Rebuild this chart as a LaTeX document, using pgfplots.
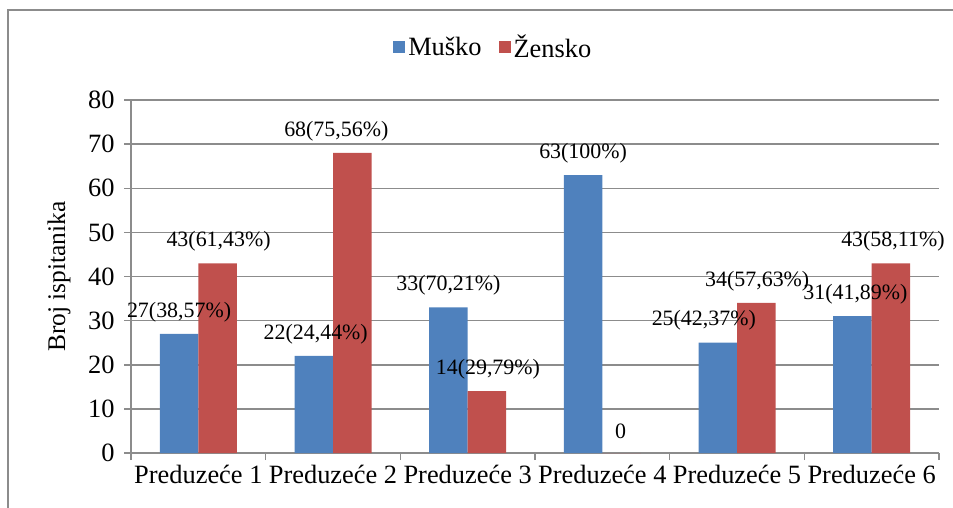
\documentclass[border=0pt]{standalone}
\usepackage{fontspec}
\setmainfont{Liberation Serif}
\usepackage{pgfplots}
\usepackage{pgfplotstable}
\pgfplotsset{compat=1.18}
\definecolor{mblue}{HTML}{4F81BD}
\definecolor{fred}{HTML}{C0504D}
\definecolor{gridgray}{HTML}{8C8C8C}

\pgfplotstableread{
x y label dx
0 27 27(38,57\%) 0
1 22 22(24,44\%) 2
2 33 33(70,21\%) 0
3 63 63(100\%) 0
4 25 25(42,37\%) -14
5 31 31(41,89\%) 3
}\muski
\pgfplotstableread{
x y label dx
0 43 43(61,43\%) 1
1 68 68(75,56\%) -16
2 14 14(29,79\%) 1
3 0 0 -1
4 34 34(57,63\%) 1
5 43 43(58,11\%) 2
}\zenski

\begin{document}
\begin{tikzpicture}
\useasboundingbox (0,0) rectangle (953bp,-508bp);
\draw[gridgray, line width=1.5bp] (8bp,-520bp) -- (8bp,-10bp) -- (970bp,-10bp);
\begin{axis}[
  at={(131bp,-453bp)}, anchor=south west,
  scale only axis, width=808bp, height=353bp,
  ybar=0pt, bar width=38.5bp,
  xmin=-0.5, xmax=5.5, ymin=0, ymax=80,
  ytick={0,10,...,80},
  xtick={0,...,5},
  xticklabels={Preduzeće 1,Preduzeće 2,Preduzeće 3,Preduzeće 4,Preduzeće 5,Preduzeće 6},
  minor xtick={-0.5,0.5,...,5.5},
  major x tick style={draw=none},
  minor tick length=7bp, major tick length=7bp,
  tick align=outside,
  axis x line*=bottom, axis y line*=left,
  axis line style={gridgray, line width=1.5bp},
  tick style={gridgray, line width=1.5bp},
  ymajorgrids, grid style={gridgray, line width=1.5bp},
  /pgf/number format/assume math mode=true,
  ticklabel style={font=\fontsize{26.5}{30}\selectfont},
  yticklabel style={xshift=-6bp},
  xticklabel style={yshift=-2bp},
  ylabel={Broj ispitanika},
  every axis y label/.style={at={(axis description cs:-0.089,0.5)}, rotate=90, anchor=center, font=\fontsize{25.5}{30}\selectfont},
  legend columns=2,
  legend style={at={(axis description cs:0.449,1.15)}, anchor=center, draw=none, fill=none,
    font=\fontsize{26.5}{30}\selectfont, inner sep=0pt, nodes={inner xsep=3bp},
    /tikz/every even column/.append style={column sep=14bp}},
  point meta=explicit symbolic,
  nodes near coords,
  visualization depends on={\thisrow{dx} \as \dx},
  every node near coord/.append style={anchor=center, yshift=22bp, xshift=\dx pt, font=\fontsize{22}{24}\selectfont, text=black},
  clip=false,
]
\addplot[fill=mblue, draw=none, legend image code/.code={\fill[mblue] (0bp,-6bp) rectangle (12bp,6bp);}] table[x=x, y=y, meta=label] {\muski};
\addplot[fill=fred, draw=none, legend image code/.code={\fill[fred] (0bp,-6bp) rectangle (12bp,6bp);}] table[x=x, y=y, meta=label] {\zenski};
\legend{Muško, Žensko}
\end{axis}
\end{tikzpicture}
\end{document}
